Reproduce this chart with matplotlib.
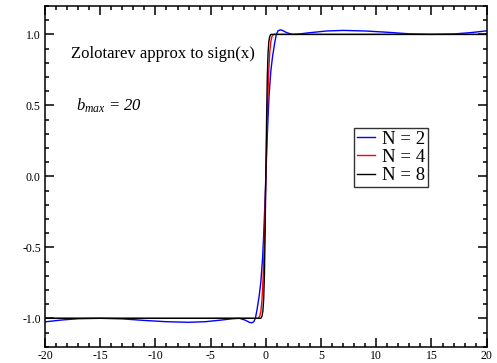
import matplotlib
matplotlib.use("Agg")
import matplotlib.pyplot as plt
from matplotlib.ticker import MultipleLocator

plt.rcParams['font.family'] = ['Liberation Serif', 'DejaVu Serif']
plt.rcParams['mathtext.fontset'] = 'custom'
plt.rcParams['mathtext.rm'] = 'Liberation Serif'
plt.rcParams['mathtext.it'] = 'Liberation Serif:italic'

# N = 2
x_n2 = [-20, -18.5, -17, -15, -13, -11, -9, -7, -5.5, -4, -3, -2.4, -1.9, -1.5, -1.3, -1.1, -0.95,
        -0.8, -0.6, -0.45, -0.3, -0.2, -0.1, 0,
        0.1, 0.2, 0.3, 0.45, 0.6, 0.8, 0.95, 1.1, 1.3, 1.5, 1.9, 2.4, 3, 4, 5.5, 7, 9, 11, 13, 15, 17, 18.5, 20]
y_n2 = [-1.025, -1.012, -1.003, -1.0, -1.004, -1.015, -1.024, -1.028, -1.024, -1.012, -1.003, -1.0, -1.012, -1.028, -1.032, -1.025, -1.0,
        -0.94, -0.84, -0.74, -0.58, -0.42, -0.22, 0.0,
        0.22, 0.42, 0.58, 0.74, 0.84, 0.94, 1.0, 1.025, 1.032, 1.028, 1.012, 1.0, 1.003, 1.012, 1.024, 1.028, 1.024, 1.015, 1.004, 1.0, 1.003, 1.012, 1.025]

# N = 4
x_n4 = [-20, -10, -0.7, -0.55, -0.45, -0.35, -0.25, -0.15, -0.07, 0,
        0.07, 0.15, 0.25, 0.35, 0.45, 0.55, 0.7, 10, 20]
y_n4 = [-1.0, -1.0, -1.0, -0.985, -0.95, -0.87, -0.72, -0.48, -0.25, 0.0,
        0.25, 0.48, 0.72, 0.87, 0.95, 0.985, 1.0, 1.0, 1.0]

# N = 8
x_n8 = [-20, -10, -0.45, -0.35, -0.27, -0.2, -0.13, -0.07, 0,
        0.07, 0.13, 0.2, 0.27, 0.35, 0.45, 10, 20]
y_n8 = [-1.0, -1.0, -1.0, -0.985, -0.95, -0.87, -0.7, -0.42, 0.0,
        0.42, 0.7, 0.87, 0.95, 0.985, 1.0, 1.0, 1.0]

labels = ["N = 2", "N = 4", "N = 8"]
colors = ["#0000ff", "#ff0000", "#000000"]

W, H = 497, 363
fig = plt.figure(figsize=(W / 100, H / 100), dpi=100)
ax = fig.add_axes([45 / W, 1 - 346.7 / H, (486.7 - 45) / W, (346.7 - 6) / H])

for xs, ys, lab, c in zip([x_n2, x_n4, x_n8], [y_n2, y_n4, y_n8], labels, colors):
    ax.plot(xs, ys, color=c, lw=1.0, label=lab)

ax.set_xlim(-20, 20)
ax.set_ylim(-1.2, 1.2)
ax.xaxis.set_major_locator(MultipleLocator(5))
ax.xaxis.set_minor_locator(MultipleLocator(1))
ax.yaxis.set_major_locator(MultipleLocator(0.5))
ax.yaxis.set_minor_locator(MultipleLocator(0.1))
ax.xaxis.set_major_formatter(plt.FuncFormatter(lambda v, p: "%d" % v))
ax.yaxis.set_major_formatter(plt.FuncFormatter(lambda v, p: "%.1f" % v))
ax.tick_params(which='both', direction='in', top=True, right=True, width=1.1, labelsize=8.5)
ax.tick_params(which='major', length=6.5)
ax.tick_params(axis='x', which='major', pad=2.5)
ax.tick_params(axis='y', which='major', pad=3)
ax.tick_params(which='minor', length=3.2)
for s in ax.spines.values():
    s.set_linewidth(1.1)

ax.text(71 / W, 1 - 54 / H, "Zolotarev approx to sign(x)", transform=fig.transFigure,
        fontsize=12, va='center', ha='left')
ax.text(76 / W, 1 - 106 / H, r"$b_{max}$ = 20", transform=fig.transFigure,
        fontsize=12, va='center', ha='left', style='italic')

leg = ax.legend(loc='upper left', bbox_to_anchor=(354 / W, 1 - 128 / H), bbox_transform=fig.transFigure,
                fontsize=13.5, frameon=True, fancybox=False, shadow=False,
                handlelength=0.95, handletextpad=0.4, labelspacing=0.05, borderpad=0.15,
                borderaxespad=0)
leg.get_frame().set_edgecolor('black')
leg.get_frame().set_linewidth(1.0)

fig.savefig("out.png", dpi=100)
